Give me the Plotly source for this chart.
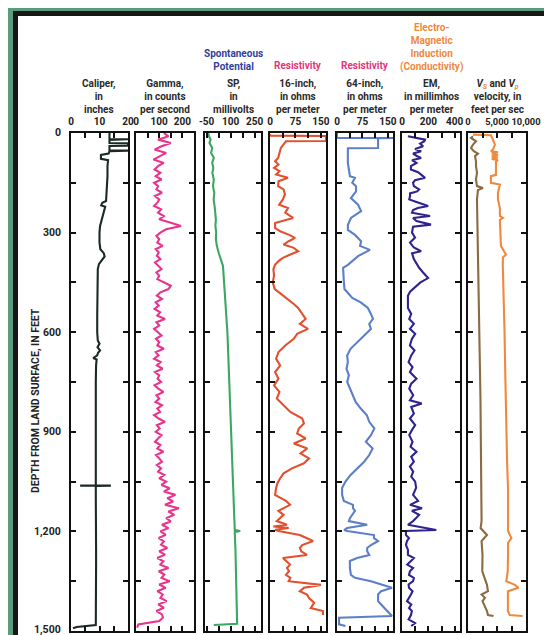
import plotly.graph_objects as go

W, H = 552, 635

# ---------------- data ----------------
caliper_depth = [0, 5, 18, 19, 21, 30, 31, 38, 39, 52, 53, 55, 62, 66, 78, 82, 100, 130, 160, 190, 205, 210, 218, 222,
                 240, 260, 280, 300, 330, 350, 362, 372, 382, 395, 410, 450, 500, 550, 600, 625, 635, 645, 655, 662,
                 670, 678, 682, 700, 750, 800, 850, 900, 950, 1000, 1050, 1061, 1062, 1062, 1063, 1100, 1150, 1200,
                 1250, 1300, 1350, 1400, 1450, 1482, 1488, 1492]
caliper_val = [13.5, 13.5, 13.5, 20, 13.5, 13.5, 20, 20, 13.5, 13.5, 20, 13.5, 13.2, 10.5, 10.5, 13, 12.8, 12.8, 12.6,
               12.5, 12.3, 11, 10.6, 12, 11.5, 10.8, 10.2, 10, 10, 10.3, 11.5, 11.8, 11, 9.8, 9.4, 9.3, 9.3, 9.2, 9.2,
               9.4, 10, 9.3, 10.2, 9.5, 9.2, 7.8, 9, 8.8, 8.7, 8.7, 8.6, 8.6, 8.6, 8.6, 8.5, 8.7, 3.2, 14, 8.7, 8.7,
               8.8, 8.8, 8.8, 8.8, 8.8, 8.8, 8.7, 8.7, 2, 0.7]

gamma_depth = [0, 10, 20, 30, 40, 50, 60, 70, 80, 90, 100, 110, 120, 130, 140, 150, 160, 170, 180, 190, 200, 210, 220,
               230, 240, 250, 260, 270, 280, 290, 300, 310, 320, 330, 340, 350, 360, 370, 380, 390, 400, 410, 420,
               430, 440, 450, 460, 470, 480, 490, 500, 510, 520, 530, 540, 550, 560, 570, 580, 590, 600, 610, 620,
               630, 640, 650, 660, 670, 680, 690, 700, 710, 720, 730, 740, 750, 760, 770, 780, 790, 800, 810, 820,
               830, 840, 850, 860, 870, 880, 890, 900, 910, 920, 930, 940, 950, 960, 970, 980, 990, 1000, 1010,
               1020, 1030, 1040, 1050, 1060, 1070, 1080, 1090, 1100, 1110, 1120, 1130, 1140, 1150, 1160, 1170,
               1180, 1190, 1200, 1210, 1220, 1230, 1240, 1250, 1260, 1270, 1280, 1290, 1300, 1310, 1320, 1330,
               1340, 1350, 1360, 1370, 1380, 1390, 1400, 1410, 1420, 1430, 1440, 1450, 1460, 1470, 1480, 1490]
gamma_val = [120, 140, 95, 150, 110, 80, 130, 100, 75, 120, 95, 80, 105, 85, 110, 78, 95, 88, 112, 82, 100, 92, 78,
             108, 95, 120, 100, 150, 194, 130, 105, 88, 100, 92, 115, 85, 98, 90, 105, 82, 96, 110, 88, 100, 92, 118,
             150, 140, 105, 90, 112, 85, 98, 80, 104, 92, 125, 88, 100, 78, 95, 110, 86, 100, 92, 120, 85, 97, 78,
             106, 90, 115, 82, 100, 93, 108, 80, 96, 118, 88, 100, 84, 112, 92, 104, 78, 98, 125, 90, 102, 85, 110,
             95, 82, 105, 92, 118, 86, 100, 112, 90, 108, 95, 122, 100, 130, 110, 145, 120, 170, 135, 160, 125, 185,
             140, 165, 130, 150, 112, 140, 105, 128, 98, 120, 108, 135, 100, 125, 92, 118, 105, 140, 98, 122, 110,
             145, 100, 128, 92, 115, 105, 132, 96, 120, 88, 112, 116, 100, 10, 5]

sp_depth = [0, 10, 20, 30, 45, 60, 75, 90, 105, 120, 140, 160, 180, 200, 220, 240, 260, 280, 300, 320, 340, 360, 380,
            400, 420, 440, 460, 480, 500, 520, 540, 560, 580, 600, 650, 700, 750, 800, 850, 900, 950, 1000, 1050,
            1100, 1150, 1196, 1199, 1202, 1250, 1300, 1350, 1400, 1450, 1478, 1482]
sp_val = [-40, -35, -25, -32, -15, -22, -5, -15, -8, -14, -5, -10, -2, -6, 0, 3, 8, 5, 10, 8, 14, 25, 40, 52, 55, 58,
          62, 66, 68, 71, 74, 76, 78, 80, 84, 88, 92, 95, 98, 102, 106, 110, 114, 118, 122, 126, 160, 126, 130, 133,
          136, 138, 140, 141, -5]

res16_depth = [3, 8, 9, 24, 25, 35, 45, 60, 75, 85, 95, 105, 115, 125, 135, 145, 160, 170, 185, 200, 216, 226, 240,
               256, 265, 271, 286, 296, 306, 316, 326, 336, 346, 356, 366, 376, 386, 397, 410, 430, 450, 470, 487,
               500, 515, 527, 545, 560, 575, 590, 605, 620, 640, 660, 680, 700, 720, 740, 760, 780, 800, 820, 840,
               860, 875, 890, 905, 920, 935, 950, 965, 980, 995, 1010, 1025, 1040, 1055, 1069, 1090, 1108, 1120,
               1138, 1150, 1169, 1180, 1185, 1190, 1195, 1199, 1211, 1220, 1229, 1241, 1250, 1260, 1271, 1280,
               1289, 1300, 1310, 1320, 1331, 1340, 1350, 1361, 1370, 1380, 1390, 1401, 1415, 1431, 1440, 1452]
res16_val = [0, 0, 165, 165, 47, 40, 32, 28, 24, 15, 25, 12, 28, 18, 53, 25, 24, 40, 44, 38, 27, 53, 45, 68, 40, 15,
             15, 30, 55, 74, 55, 40, 70, 83, 60, 38, 25, 15, 10, 12, 8, 14, 35, 53, 70, 83, 95, 105, 88, 112, 80, 70,
             45, 25, 18, 30, 15, 25, 12, 28, 20, 40, 60, 95, 100, 85, 80, 105, 70, 110, 90, 115, 100, 65, 40, 30, 22,
             18, 15, 47, 59, 25, 40, 20, 50, 10, 55, 15, 25, 88, 109, 127, 95, 88, 92, 109, 38, 47, 59, 50, 56, 47,
             60, 55, 150, 100, 88, 109, 115, 130, 120, 156, 156]

res64_depth = [0, 15, 15, 16, 45, 46, 60, 90, 110, 130, 135, 150, 160, 176, 196, 216, 235, 256, 277, 292, 307, 326,
               340, 352, 371, 397, 406, 426, 446, 470, 497, 510, 527, 545, 560, 575, 590, 610, 630, 650, 670, 690,
               710, 730, 750, 770, 790, 810, 830, 850, 870, 890, 910, 930, 950, 970, 990, 1010, 1030, 1050, 1069,
               1090, 1108, 1120, 1130, 1138, 1160, 1169, 1180, 1190, 1196, 1199, 1211, 1220, 1229, 1241, 1250,
               1260, 1271, 1280, 1289, 1310, 1331, 1340, 1350, 1370, 1380, 1390, 1410, 1420, 1440, 1455, 1460,
               1480, 1485]
res64_val = [0, 0, 165, 121, 121, 32, 32, 32, 35, 38, 53, 45, 56, 56, 41, 62, 71, 41, 32, 32, 53, 71, 68, 97, 62, 32,
             18, 18, 20, 22, 45, 70, 91, 100, 106, 95, 100, 80, 60, 40, 30, 32, 28, 35, 30, 38, 45, 55, 70, 88, 95,
             110, 100, 85, 105, 95, 80, 60, 40, 25, 15, 15, 20, 47, 47, 53, 38, 35, 89, 30, 21, 30, 109, 109, 121,
             100, 89, 89, 95, 59, 38, 38, 41, 53, 100, 162, 130, 121, 121, 130, 150, 162, 6, 6, 25]

em_depth = [10, 20, 25, 32, 40, 48, 55, 62, 70, 75, 82, 90, 100, 110, 118, 126, 135, 142, 150, 160, 170, 176, 182,
            190, 200, 206, 214, 220, 226, 232, 240, 250, 256, 265, 276, 282, 300, 315, 330, 345, 356, 362, 380, 395,
            406, 420, 437, 450, 465, 478, 490, 510, 527, 545, 560, 575, 590, 605, 620, 640, 655, 670, 690, 705, 720,
            740, 755, 770, 790, 805, 815, 825, 845, 860, 880, 895, 910, 930, 945, 960, 975, 990, 1005, 1020, 1035,
            1050, 1069, 1090, 1108, 1120, 1130, 1138, 1150, 1160, 1169, 1180, 1196, 1199, 1211, 1220, 1229, 1241,
            1255, 1271, 1280, 1289, 1300, 1310, 1320, 1331, 1340, 1350, 1360, 1370, 1380, 1390, 1400, 1410, 1420,
            1431, 1440, 1452, 1465, 1476, 1485]
em_val = [45, 175, 170, 137, 160, 99, 145, 84, 115, 145, 76, 110, 68, 68, 122, 145, 175, 99, 84, 90, 130, 115, 61,
          61, 55, 99, 160, 198, 120, 84, 76, 213, 84, 110, 220, 84, 76, 99, 61, 90, 145, 76, 90, 110, 130, 160, 198,
          140, 99, 61, 45, 45, 45, 70, 55, 90, 60, 100, 75, 60, 95, 70, 50, 80, 60, 110, 70, 55, 85, 60, 150, 70, 90,
          60, 100, 75, 55, 80, 65, 110, 70, 90, 60, 85, 70, 100, 107, 84, 122, 61, 152, 75, 130, 107, 84, 45, 260,
          30, 30, 53, 38, 30, 45, 45, 90, 68, 40, 84, 60, 53, 90, 84, 50, 53, 80, 68, 50, 38, 70, 53, 75, 68, 50, 99,
          70]

vs_depth = [10, 15, 25, 35, 45, 55, 62, 70, 85, 100, 120, 140, 160, 166, 172, 200, 250, 300, 350, 400, 450, 500, 527,
            600, 700, 800, 900, 1000, 1069, 1169, 1190, 1211, 1229, 1271, 1320, 1361, 1380, 1390, 1400, 1410, 1440,
            1452, 1455]
vs_val = [860, 520, 1380, 860, 520, 1000, 1720, 1200, 1380, 1380, 1550, 1380, 1550, 2580, 1720, 1550, 1600, 1650, 1700,
          1800, 1850, 1950, 2000, 2050, 2100, 2150, 2200, 2250, 2340, 2340, 2170, 3270, 2340, 2500, 2460, 3270, 3440,
          2340, 2920, 2500, 3270, 3440, 4400]

vp_depth = [5, 7, 20, 35, 50, 55, 58, 62, 66, 70, 74, 78, 82, 86, 110, 126, 130, 150, 155, 180, 200, 226, 250, 256,
            262, 300, 340, 366, 375, 400, 450, 527, 600, 700, 800, 900, 1000, 1069, 1169, 1199, 1220, 1235, 1271,
            1320, 1350, 1361, 1370, 1380, 1410, 1440, 1452, 1455]
vp_val = [860, 3950, 4300, 4640, 4300, 3950, 5160, 4100, 5160, 4100, 5160, 4100, 5160, 4820, 4820, 4820, 3950, 3950,
          5500, 5160, 5160, 5500, 5500, 6020, 5500, 5600, 5680, 6540, 6020, 6000, 6100, 6200, 6300, 6400, 6500, 6600,
          6750, 6900, 6850, 6900, 7480, 6900, 6900, 6850, 6600, 8080, 8700, 6880, 6880, 6880, 7200, 9400]

depth_ticks = [0, 150, 300, 450, 600, 750, 900, 1050, 1200, 1350, 1500]
depth_labels = ["0", "300", "600", "900", "1,200", "1,500"]
depth_label_vals = [0, 300, 600, 900, 1200, 1500]

# panel specs: (x0px, x1px, range, labelled tick values, labels, minor tick values)
panels = [
    (63, 120, [0, 20], [0, 10, 20], ["0", "10", "20"], [5, 15]),
    (128, 186, [0, 250], [0, 100, 200], ["0", "100", "200"], [50, 150]),
    (197, 253, [-60, 290], [-50, 100, 250], ["-50", "100", "250"], [25, 175]),
    (262, 318, [0, 165], [0, 75, 150], ["0", "75", "150"], [37.5, 112.5]),
    (329, 385, [0, 165], [0, 75, 150], ["0", "75", "150"], [37.5, 112.5]),
    (394, 452, [0, 440], [0, 200, 400], ["0", "200", "400"], [100, 300]),
    (460, 518, [0, 10000], [0, 5000, 10000], ["0", "5,000", "10,000"], [2500, 7500]),
]

FONT = "Roboto, Liberation Sans, sans-serif"
FS = 10
Y_TOP, Y_BOT = 125, 623

fig = go.Figure()

series = [
    (caliper_val, caliper_depth, "#1d2a24", 1),
    (gamma_val, gamma_depth, "#e8348c", 2),
    (sp_val, sp_depth, "#3aa862", 3),
    (res16_val, res16_depth, "#e2502e", 4),
    (res64_val, res64_depth, "#5b7fc9", 5),
    (em_val, em_depth, "#2f2390", 6),
    (vs_val, vs_depth, "#8c6a42", 7),
    (vp_val, vp_depth, "#f0893e", 7),
]
for xv, yv, col, p in series:
    sfx = "" if p == 1 else str(p)
    fig.add_trace(go.Scatter(x=xv, y=yv, mode="lines", line=dict(color=col, width=2.1),
                             xaxis="x" + sfx, yaxis="y" + sfx, showlegend=False, hoverinfo="skip"))

layout = dict(
    width=W, height=H,
    margin=dict(l=0, r=0, t=0, b=0, autoexpand=False),
    paper_bgcolor="#5b9c7e",
    plot_bgcolor="#ffffff",
    showlegend=False,
)

ydom = [1 - Y_BOT / H, 1 - Y_TOP / H]
for i, (x0, x1, rng, tv, tt, mv) in enumerate(panels):
    n = i + 1
    sfx = "" if n == 1 else str(n)
    layout["xaxis" + sfx] = dict(
        domain=[x0 / W, x1 / W], range=rng, side="top", anchor="y" + sfx,
        tickvals=tv, ticktext=tt, ticks="inside", ticklen=5, tickwidth=1.5, tickcolor="#111",
        minor=dict(tickvals=mv, ticks="inside", ticklen=5, tickwidth=1.5, tickcolor="#111", showgrid=False),
        showline=True, linewidth=2.2, linecolor="#111", mirror="ticks", tickangle=0,
        showgrid=False, zeroline=False, fixedrange=True, ticklabelstandoff=2,
        tickfont=dict(family=FONT, size=(9.3 if n == 7 else FS), color="#222", weight="bold"),
    )
    layout["yaxis" + sfx] = dict(
        domain=ydom, range=[1500, 0], anchor="x" + sfx,
        tickvals=depth_ticks, showticklabels=False,
        ticks="inside", ticklen=5, tickwidth=1.5, tickcolor="#111",
        showline=True, linewidth=2.2, linecolor="#111", mirror="ticks",
        showgrid=False, zeroline=False, fixedrange=True,
    )

layout["shapes"] = [
    dict(type="rect", xref="paper", yref="paper", x0=7.5 / W, x1=547.5 / W, y0=1 - 632.5 / H, y1=1 - 5.5 / H,
         line=dict(color="#161616", width=5), fillcolor="#ffffff", layer="below"),
]

centers = [(p[0] + p[1]) / 2 for p in panels]
orange = "#f0893e"
heads = [
    "Caliper,<br>in<br>inches",
    "Gamma,<br>in counts<br>per second",
    "SP,<br>in<br>millivolts",
    "16-inch,<br>in ohms<br>per meter",
    "64-inch,<br>in ohms<br>per meter",
    "EM,<br>in millimhos<br>per meter",
    "<i>V<sub><span style='color:%s'>S</span></sub></i> and <i>V<sub><span style='color:%s'>p</span></sub></i><br>velocity, in<br>feet per sec" % (orange, orange),
]
ann = []
for c, t in zip(centers, heads):
    ann.append(dict(x=c / W, y=1 - 88 / H, xref="paper", yref="paper", text=t, showarrow=False,
                    xanchor="center", yanchor="middle", align="center",
                    font=dict(family=FONT, size=FS, color="#2a2a2a", weight="bold")))
ann.append(dict(x=centers[2] / W, y=1 - 51.5 / H, xref="paper", yref="paper", text="Spontaneous<br>Potential",
                showarrow=False, xanchor="center", yanchor="middle",
                font=dict(family=FONT, size=FS, color="#2f3f9c", weight="bold")))
for k in (3, 4):
    ann.append(dict(x=centers[k] / W, y=1 - 58 / H, xref="paper", yref="paper", text="Resistivity",
                    showarrow=False, xanchor="center", yanchor="middle",
                    font=dict(family=FONT, size=FS, color="#e8347c", weight="bold")))
ann.append(dict(x=centers[5] / W, y=1 - 39.5 / H, xref="paper", yref="paper",
                text="Electro-<br>Magnetic<br>Induction<br>(Conductivity)",
                showarrow=False, xanchor="center", yanchor="middle",
                font=dict(family=FONT, size=FS, color=orange, weight="bold")))
ann.append(dict(x=27 / W, y=1 - 393 / H, xref="paper", yref="paper", text="DEPTH FROM LAND SURFACE, IN FEET",
                showarrow=False, textangle=-90, xanchor="center", yanchor="middle",
                font=dict(family=FONT, size=FS + 0.5, color="#222", weight="bold")))
# depth tick labels on the first panel
for v, t in zip(depth_label_vals, depth_labels):
    ann.append(dict(x=55 / W, y=v, xref="paper", yref="y", text=t, showarrow=False,
                    xanchor="right", yanchor="middle", yshift=(2 if v == 1500 else 0),
                    font=dict(family=FONT, size=FS + 0.5, color="#222", weight="bold")))
layout["annotations"] = ann

fig.update_layout(**layout)
fig.write_html("out.html")
